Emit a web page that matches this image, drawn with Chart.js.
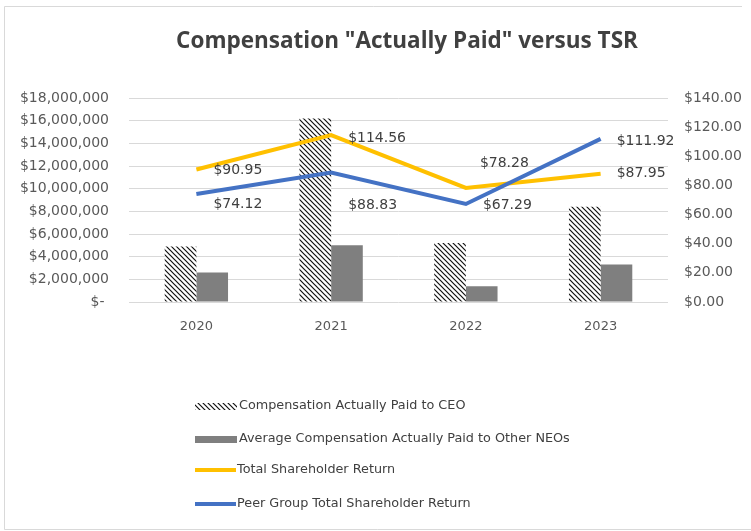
<!DOCTYPE html>
<html>
<head>
<meta charset="utf-8">
<script src="https://cdn.jsdelivr.net/npm/chart.js@4.4.1/dist/chart.umd.min.js"></script>
<style>
  html, body { margin: 0; padding: 0; background: #fff; }
  #wrap { width: 751px; height: 531px; }
</style>
</head>
<body>
<div id="wrap"><canvas id="tsrChart" width="751" height="531"></canvas></div>
<script>
// chart data
const years = ['2020', '2021', '2022', '2023'];
const ceoPaid = [4900000, 16200000, 5200000, 8400000];
const neoPaid = [2600000, 5000000, 1400000, 3300000];
const tsr = [90.95, 114.56, 78.28, 87.95];
const peerTsr = [74.12, 88.83, 67.29, 111.92];
const seriesNames = [
  'Compensation Actually Paid to CEO',
  'Average Compensation Actually Paid to Other NEOs',
  'Total Shareholder Return',
  'Peer Group Total Shareholder Return'
];

const TXT = '#595959';
const LBL = '#404040';
const FONT = '"DejaVu Sans", sans-serif';

// diagonal hatch for the CEO bars
function makeHatch() {
  const c = document.createElement('canvas');
  c.width = 5; c.height = 5;
  const g = c.getContext('2d');
  g.fillStyle = '#fff';
  g.fillRect(0, 0, 5, 5);
  g.strokeStyle = '#111';
  g.lineWidth = 1.2;
  g.beginPath();
  g.moveTo(-1, -1); g.lineTo(6, 6);
  g.moveTo(-1, 4); g.lineTo(1, 6);
  g.moveTo(4, -1); g.lineTo(6, 1);
  g.stroke();
  return g.createPattern(c, 'repeat');
}
const ctx = document.getElementById('tsrChart').getContext('2d');
const hatch = makeHatch();

// label offsets from each line point (dx, dy)
const tsrOffsets = [[17, 1], [17, 3], [14, -25], [16, 0]];
const peerOffsets = [[17, 10], [17, 33], [17, 1], [16, 2]];

const frameAndTitle = {
  id: 'frameAndTitle',
  beforeDraw(chart) {
    const c = chart.ctx;
    c.save();
    c.fillStyle = '#fff';
    c.fillRect(0, 0, chart.width, chart.height);
    // outer frame: top, left, bottom (right edge is cropped off)
    c.strokeStyle = '#d9d9d9';
    c.lineWidth = 1;
    c.beginPath();
    c.moveTo(742, 6.5); c.lineTo(4.5, 6.5); c.lineTo(4.5, 529.5); c.lineTo(751, 529.5);
    c.stroke();
    c.restore();
  },
  afterDraw(chart) {
    const c = chart.ctx;
    c.save();
    c.fillStyle = LBL;
    c.font = 'bold 22.5px "Open Sans", sans-serif';
    c.textAlign = 'center';
    c.textBaseline = 'alphabetic';
    c.fillText('Compensation "Actually Paid" versus TSR', 407, 48);

    // legend, one entry per row
    const rows = [406, 439, 470, 504];
    c.font = '12.8px ' + FONT;
    c.textAlign = 'left';
    c.textBaseline = 'middle';
    rows.forEach((y, i) => {
      const ds = chart.data.datasets[i];
      if (ds.type === 'bar') {
        c.fillStyle = ds.backgroundColor;
        c.fillRect(195, y - 3, 42, 7);
      } else {
        c.strokeStyle = ds.borderColor;
        c.lineWidth = 4;
        c.beginPath();
        c.moveTo(195, y);
        c.lineTo(236, y);
        c.stroke();
      }
      c.fillStyle = LBL;
      c.fillText(ds.label, ds.type === 'bar' ? 239 : 237, y);
    });
    c.restore();
  }
};

const lineLabels = {
  id: 'lineLabels',
  afterDatasetsDraw(chart) {
    const c = chart.ctx;
    c.save();
    c.font = '14px ' + FONT;
    c.fillStyle = LBL;
    c.textAlign = 'left';
    c.textBaseline = 'middle';
    chart.data.datasets.forEach((ds, di) => {
      if (!ds.offsets) return;
      chart.getDatasetMeta(di).data.forEach((pt, i) => {
        const [dx, dy] = ds.offsets[i];
        c.fillText('$' + ds.data[i].toFixed(2), pt.x + dx, pt.y + dy);
      });
    });
    c.restore();
  }
};

new Chart(ctx, {
  data: {
    labels: years,
    datasets: [
      { type: 'bar', label: seriesNames[0], data: ceoPaid, backgroundColor: hatch,
        yAxisID: 'y', order: 2, categoryPercentage: 0.47, barPercentage: 1 },
      { type: 'bar', label: seriesNames[1], data: neoPaid, backgroundColor: '#7f7f7f',
        yAxisID: 'y', order: 2, categoryPercentage: 0.47, barPercentage: 1 },
      { type: 'line', label: seriesNames[2], data: tsr, borderColor: '#ffc000',
        borderWidth: 4, pointRadius: 0, tension: 0, yAxisID: 'y1', order: 1, offsets: tsrOffsets },
      { type: 'line', label: seriesNames[3], data: peerTsr, borderColor: '#4472c4',
        borderWidth: 4, pointRadius: 0, tension: 0, yAxisID: 'y1', order: 0, offsets: peerOffsets }
    ]
  },
  options: {
    responsive: false,
    animation: false,
    devicePixelRatio: 1,
    layout: { padding: { top: 98, bottom: 189, left: 0, right: 0 } },
    plugins: { legend: { display: false }, tooltip: { enabled: false } },
    scales: {
      x: {
        grid: { display: false },
        border: { display: false },
        ticks: { color: TXT, font: { family: FONT, size: 13 }, padding: 9 },
        afterFit: s => { s.height = 40; }
      },
      y: {
        position: 'left',
        min: 0, max: 18000000,
        grid: { color: '#d9d9d9', drawTicks: false },
        border: { display: false },
        ticks: {
          stepSize: 2000000, color: TXT, padding: 20,
          font: { family: FONT, size: 14 },
          callback: v => v === 0 ? '$- ' : '$' + v.toLocaleString('en-US')
        },
        afterFit: s => { s.width = 129; }
      },
      y1: {
        position: 'right',
        min: 0, max: 140,
        grid: { display: false, drawTicks: false },
        border: { display: false },
        ticks: {
          stepSize: 20, color: TXT, padding: 16,
          font: { family: FONT, size: 14 },
          callback: v => '$' + v.toFixed(2)
        },
        afterFit: s => { s.width = 83; }
      }
    }
  },
  plugins: [frameAndTitle, lineLabels]
});
</script>
</body>
</html>
